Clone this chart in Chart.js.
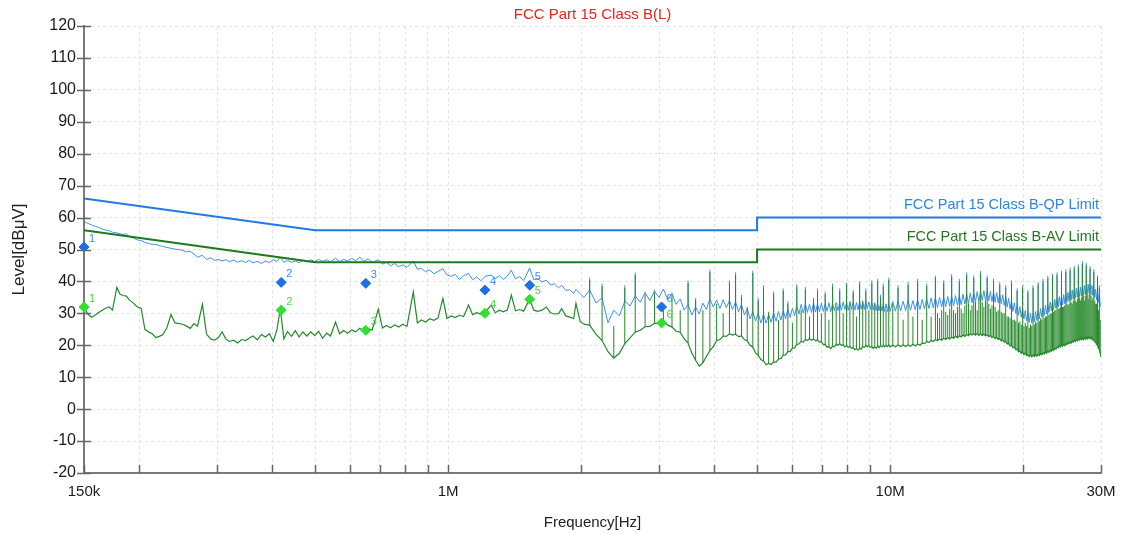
<!DOCTYPE html>
<html>
<head>
<meta charset="utf-8">
<script src="https://cdn.jsdelivr.net/npm/chart.js@4.4.1/dist/chart.umd.min.js"></script>
<style>
  html, body { margin: 0; padding: 0; background: #fff; }
</style>
</head>
<body>
<canvas id="emi" width="1121" height="535"></canvas>
<script>
// scan frequencies in MHz (shared by both receiver traces)
const freqMHz = [
  0.150, 0.153, 0.156, 0.159, 0.162, 0.165, 0.168, 0.171, 0.174, 0.178,
  0.181, 0.184, 0.187, 0.190, 0.194, 0.198, 0.202, 0.206, 0.210, 0.214,
  0.218, 0.222, 0.226, 0.231, 0.236, 0.241, 0.246, 0.251, 0.256, 0.261,
  0.266, 0.271, 0.278, 0.284, 0.290, 0.296, 0.302, 0.308, 0.314, 0.320,
  0.327, 0.334, 0.341, 0.348, 0.355, 0.362, 0.370, 0.378, 0.386, 0.394,
  0.402, 0.410, 0.417, 0.425, 0.433, 0.442, 0.451, 0.460, 0.469, 0.479,
  0.489, 0.499, 0.509, 0.520, 0.531, 0.542, 0.556, 0.568, 0.580, 0.592,
  0.605, 0.618, 0.631, 0.645, 0.659, 0.673, 0.695, 0.710, 0.725, 0.741,
  0.757, 0.773, 0.790, 0.807, 0.834, 0.852, 0.870, 0.889, 0.908, 0.928,
  0.948, 0.973, 0.994, 1.016, 1.038, 1.061, 1.084, 1.112, 1.136, 1.161,
  1.186, 1.212, 1.251, 1.278, 1.306, 1.334, 1.362, 1.390, 1.420, 1.451,
  1.482, 1.529, 1.562, 1.596, 1.630, 1.668, 1.704, 1.740, 1.777, 1.807,
  1.845, 1.884, 1.923, 1.946, 1.990, 2.030,
  2.09, 2.16, 2.23, 2.30, 2.37, 2.44, 2.51, 2.58, 2.65, 2.72,
  2.79, 2.86, 2.93, 3.00, 3.07, 3.14, 3.21, 3.28, 3.35, 3.42,
  3.49, 3.56, 3.63, 3.70, 3.77, 3.84, 3.91, 3.98, 4.05, 4.12,
  4.19, 4.26, 4.33, 4.40, 4.47, 4.54, 4.61, 4.68, 4.75, 4.82,
  4.89, 4.96, 5.03, 5.10, 5.17, 5.24, 5.31, 5.38, 5.45, 5.52,
  5.59, 5.66, 5.73, 5.80, 5.87, 5.94, 6.01, 6.08, 6.15, 6.22,
  6.29, 6.36, 6.43, 6.50, 6.57, 6.64, 6.71, 6.78, 6.85, 6.92,
  6.99, 7.06, 7.13, 7.20, 7.27, 7.34, 7.41, 7.48, 7.55, 7.62,
  7.69, 7.76, 7.83, 7.90, 7.97, 8.04, 8.11, 8.18, 8.25, 8.32,
  8.39, 8.46, 8.53, 8.60, 8.67, 8.74, 8.81, 8.88, 8.95, 9.02,
  9.09, 9.16, 9.23, 9.30, 9.37, 9.44, 9.51, 9.58, 9.65, 9.72,
  9.79, 9.86, 9.93,
  10.00, 10.14, 10.28, 10.42, 10.56, 10.70, 10.84, 10.98, 11.12, 11.26,
  11.40, 11.54, 11.68, 11.82, 11.96, 12.10, 12.24, 12.38, 12.52, 12.66,
  12.80, 12.94, 13.08, 13.22, 13.36, 13.50, 13.64, 13.78, 13.92, 14.06,
  14.20, 14.34, 14.48, 14.62, 14.76, 14.90, 15.04, 15.18, 15.32, 15.46,
  15.60, 15.74, 15.88, 16.02, 16.16, 16.30, 16.44, 16.58, 16.72, 16.86,
  17.00, 17.14, 17.28, 17.42, 17.56, 17.70, 17.84, 17.98, 18.12, 18.26,
  18.40, 18.54, 18.68, 18.82, 18.96, 19.10, 19.24, 19.38, 19.52, 19.66,
  19.80, 19.94, 20.08, 20.22, 20.36, 20.50, 20.64, 20.78, 20.92, 21.06,
  21.20, 21.34, 21.48, 21.62, 21.76, 21.90, 22.04, 22.18, 22.32, 22.46,
  22.60, 22.74, 22.88, 23.02, 23.16, 23.30, 23.44, 23.58, 23.72, 23.86,
  24.00, 24.14, 24.28, 24.42, 24.56, 24.70, 24.84, 24.98, 25.12, 25.26,
  25.40, 25.54, 25.68, 25.82, 25.96, 26.10, 26.24, 26.38, 26.52, 26.66,
  26.80, 26.94, 27.08, 27.22, 27.36, 27.50, 27.64, 27.78, 27.92, 28.06,
  28.20, 28.34, 28.48, 28.62, 28.76, 28.90, 29.04, 29.18, 29.32, 29.46,
  29.60, 29.74, 29.88, 30.00
];

// blue trace, peak detector [dBuV]
const peakLevel = [
  58.7, 58.2, 57.7, 57.3, 56.9, 56.4, 56.1, 55.9, 55.4, 55.2,
  54.9, 54.7, 54.9, 54.1, 53.6, 53.0, 52.8, 52.2, 51.9, 51.6,
  51.6, 51.2, 51.0, 50.6, 50.4, 50.1, 50.0, 49.7, 49.3, 49.4,
  48.6, 47.6, 48.2, 46.9, 47.4, 46.6, 46.9, 46.4, 46.8, 46.2,
  46.7, 46.0, 46.5, 45.9, 46.6, 45.8, 46.3, 45.6, 46.4, 45.9,
  46.8, 46.2, 47.6, 46.0, 46.6, 46.0, 46.4, 45.9, 46.7, 46.1,
  46.8, 46.2, 46.9, 46.3, 46.8, 46.1, 47.3, 46.2, 46.9, 46.4,
  47.2, 46.5, 47.6, 46.3, 47.1, 45.9, 46.8, 45.4, 46.0, 44.9,
  45.6, 44.6, 45.2, 44.4, 46.4, 43.8, 44.1, 43.0, 43.6, 42.4,
  43.1, 44.0, 42.0, 41.6, 42.2, 40.6, 41.8, 42.5, 40.5, 41.4,
  40.2, 41.6, 42.0, 40.9, 41.8, 40.6, 41.7, 43.5, 40.8, 41.5,
  40.3, 44.2, 40.6, 40.9, 39.8, 40.4, 38.9, 39.2, 38.0, 38.8,
  37.2, 37.4, 36.3, 37.5, 36.1, 35.0,
  37.3, 33.3, 34.8, 27.0, 31.0, 29.2, 33.8, 32.3, 35.5, 33.5,
  36.5, 34.0, 37.0, 35.0, 37.6, 34.3, 36.2, 32.8, 34.5, 31.0,
  32.8, 29.5, 32.0, 29.8, 33.2, 31.2, 34.5, 32.0, 34.2, 31.5,
  34.3, 31.8, 34.0, 31.2, 33.6, 30.5, 32.8, 29.5, 31.5, 28.3,
  30.5, 27.6, 30.0, 27.0, 29.8, 26.9, 29.6, 27.2, 30.2, 27.5,
  30.6, 27.9, 30.8, 28.3, 31.4, 28.7, 31.6, 29.3, 32.4, 29.8,
  32.8, 30.1, 33.0, 30.3, 32.9, 30.3, 33.2, 30.4, 33.0, 30.5,
  33.2, 30.6, 33.0, 30.7, 33.3, 30.5, 33.1, 30.8, 33.4, 30.9,
  33.3, 31.0, 33.6, 31.2, 33.4, 31.0, 33.7, 31.2, 33.5, 31.0,
  33.4, 31.1, 33.7, 31.3, 33.5, 31.2, 33.8, 31.4, 33.6, 31.2,
  33.5, 31.0, 33.3, 30.9, 33.2, 30.8, 33.1, 30.7, 33.0, 30.6,
  33.0, 30.6, 33.1,
  30.6, 33.7, 30.7, 33.9, 30.8, 33.8, 30.9, 34.1, 31.0, 34.0,
  31.1, 34.3, 31.2, 34.4, 31.4, 34.5, 31.5, 34.8, 31.7, 34.9,
  31.8, 35.0, 32.0, 35.1, 32.1, 35.3, 32.2, 35.4, 32.4, 35.6,
  32.5, 35.7, 32.7, 36.0, 32.9, 36.1, 33.1, 36.4, 33.3, 36.6,
  33.6, 36.8, 33.8, 37.0, 34.0, 37.1, 34.0, 37.0, 33.9, 36.9,
  33.7, 36.7, 33.5, 36.5, 33.3, 36.2, 33.0, 35.8, 32.5, 35.3,
  32.0, 34.7, 31.3, 34.0, 30.6, 33.3, 30.0, 32.7, 29.4, 32.1,
  28.8, 31.5, 28.2, 30.9, 27.6, 30.4, 27.2, 30.1, 27.0, 30.2,
  27.4, 30.6, 27.8, 31.0, 28.3, 31.5, 28.8, 32.0, 29.3, 32.5,
  29.8, 33.0, 30.3, 33.5, 30.8, 34.0, 31.2, 34.4, 31.6, 34.8,
  32.0, 35.2, 32.4, 35.6, 32.7, 35.9, 33.0, 36.2, 33.4, 36.6,
  33.8, 37.0, 34.1, 37.3, 34.4, 37.6, 34.7, 37.9, 35.0, 38.1,
  35.2, 38.3, 35.4, 38.5, 35.6, 38.7, 35.8, 38.9, 36.0, 39.1,
  36.2, 39.1, 36.0, 38.8, 35.6, 38.3, 35.0, 37.6, 34.2, 36.8,
  33.5, 36.0, 32.6, 32.0
];

// green trace, average detector [dBuV]
const avgLevel = [
  32.0, 29.8, 28.8, 29.5, 30.3, 31.0, 31.6, 32.0, 31.0, 38.1,
  36.0, 35.6, 35.4, 34.2, 33.2, 32.0, 31.6, 25.0, 24.2, 23.6,
  22.4, 22.8, 23.3, 25.5, 29.6, 27.0, 26.8, 26.6, 26.0, 25.3,
  26.8, 26.0, 32.8, 23.5, 22.0, 21.6, 22.4, 24.2, 22.0, 21.2,
  21.6, 20.7, 21.8, 21.5, 22.3, 22.9, 21.7, 23.4, 22.6, 23.6,
  21.2, 25.0, 31.5, 22.0, 24.3, 22.8, 24.6, 22.6, 24.2, 22.9,
  24.2, 23.0, 24.4, 22.2, 23.8, 22.9, 27.3, 23.6, 24.6, 23.8,
  24.8, 24.2, 25.3, 24.4, 25.2, 24.8, 31.3, 25.4, 26.2, 25.5,
  26.4, 25.7, 26.6, 25.9, 36.7, 27.0, 27.9, 27.3, 28.3, 27.8,
  28.5, 34.7, 28.4, 29.2, 28.7, 29.4, 29.0, 32.6, 29.6, 30.2,
  29.7, 30.3, 32.6, 30.2, 31.0, 30.5, 31.1, 35.7, 30.8, 31.2,
  30.7, 34.5, 31.0, 30.6, 31.0, 32.0, 30.2, 29.8, 29.9, 31.5,
  29.2, 28.8, 28.4, 33.1, 27.4, 26.6,
  26.3, 23.5, 21.5, 18.0, 16.0, 17.5, 20.5, 22.3, 24.1, 24.7,
  25.8, 25.9, 26.9, 26.8, 27.5, 26.3, 25.7, 24.4, 24.1, 22.0,
  20.7, 17.5, 15.3, 13.5, 14.5, 16.5, 18.3, 19.6, 21.5, 21.8,
  22.9, 22.8, 23.6, 23.2, 23.5, 22.7, 22.9, 21.8, 21.4, 20.0,
  19.4, 17.6, 16.9, 15.5, 15.1, 13.9, 14.3, 14.0, 14.8, 14.7,
  15.7, 15.8, 16.9, 17.0, 18.0, 18.0, 19.1, 19.2, 20.3, 20.4,
  21.2, 21.0, 21.8, 21.5, 22.1, 21.6, 22.0, 21.4, 21.7, 21.0,
  21.1, 20.2, 20.3, 19.4, 19.6, 19.0, 19.7, 19.5, 20.3, 20.0,
  20.5, 19.9, 20.2, 19.5, 19.9, 19.3, 19.7, 19.0, 19.3, 18.6,
  19.0, 18.5, 19.1, 18.8, 19.6, 19.3, 20.0, 19.5, 19.9, 19.3,
  19.6, 19.0, 19.5, 19.1, 19.7, 19.3, 19.9, 19.5, 20.0, 19.5,
  20.0, 19.6, 20.1,
  19.5, 20.0, 19.5, 20.1, 19.6, 20.1, 19.6, 20.2, 19.7, 20.3,
  19.8, 20.4, 20.0, 20.7, 20.5, 21.2, 20.9, 21.5, 21.2, 21.8,
  21.4, 22.0, 21.6, 22.2, 21.8, 22.4, 22.0, 22.6, 22.2, 22.8,
  22.4, 23.0, 22.6, 23.2, 22.8, 23.4, 23.0, 23.6, 23.2, 23.7,
  23.2, 23.7, 23.1, 23.6, 23.0, 23.5, 22.9, 23.3, 22.7, 23.1,
  22.4, 22.8, 22.1, 22.5, 21.8, 22.1, 21.4, 21.7, 21.0, 21.2,
  20.4, 20.6, 19.8, 20.0, 19.2, 19.4, 18.6, 18.8, 18.0, 18.2,
  17.5, 17.8, 17.1, 17.5, 16.8, 17.1, 16.5, 17.0, 16.4, 17.0,
  16.5, 17.1, 16.6, 17.2, 16.8, 17.4, 17.0, 17.7, 17.3, 17.9,
  17.5, 18.2, 17.8, 18.5, 18.1, 18.8, 18.4, 19.1, 18.8, 19.5,
  19.2, 19.9, 19.5, 20.1, 19.7, 20.3, 19.9, 20.6, 20.2, 20.9,
  20.5, 21.1, 20.7, 21.4, 21.0, 21.6, 21.2, 21.8, 21.4, 22.0,
  21.6, 22.2, 21.7, 22.3, 21.8, 22.4, 21.9, 22.5, 22.0, 22.6,
  22.1, 22.6, 22.0, 22.3, 21.6, 21.8, 21.0, 21.1, 20.2, 20.1,
  19.0, 18.7, 17.5, 16.4
];

// harmonic spikes of the switching frequency above 2 MHz
const spikeFreq = [
  2.09, 2.23, 2.37, 2.51, 2.65, 2.79, 2.93, 3.07, 3.21, 3.35,
  3.49, 3.63, 3.77, 3.91, 4.05, 4.19, 4.33, 4.47, 4.61, 4.75,
  4.89, 5.03, 5.17, 5.31, 5.45, 5.59, 5.73, 5.87, 6.01, 6.15,
  6.29, 6.43, 6.57, 6.71, 6.85, 6.99, 7.13, 7.27, 7.41, 7.55,
  7.69, 7.83, 7.97, 8.11, 8.25, 8.39, 8.53, 8.67, 8.81, 8.95,
  9.09, 9.23, 9.37, 9.51, 9.65, 9.79, 9.93,
  10.14, 10.42, 10.70, 10.98, 11.26, 11.54, 11.82, 12.10, 12.38, 12.66,
  12.94, 13.22, 13.50, 13.78, 14.06, 14.34, 14.62, 14.90, 15.18, 15.46,
  15.74, 16.02, 16.30, 16.58, 16.86, 17.14, 17.42, 17.70, 17.98, 18.26,
  18.54, 18.82, 19.10, 19.38, 19.66, 19.94, 20.22, 20.50, 20.78, 21.06,
  21.34, 21.62, 21.90, 22.18, 22.46, 22.74, 23.02, 23.30, 23.58, 23.86,
  24.14, 24.42, 24.70, 24.98, 25.26, 25.54, 25.82, 26.10, 26.38, 26.66,
  26.94, 27.22, 27.50, 27.78, 28.06, 28.34, 28.62, 28.90, 29.18, 29.46,
  29.74,
  12.80, 13.08, 13.36, 13.64, 13.92, 14.20, 14.48, 14.76, 15.04, 15.32,
  15.60, 15.88, 16.16, 16.44, 16.72, 17.00, 17.28, 17.56, 17.84, 18.12,
  18.40, 18.68, 18.96, 19.24, 19.52, 19.80, 20.08, 20.36, 20.64, 20.92,
  21.20, 21.48, 21.76, 22.04, 22.32, 22.60, 22.88, 23.16, 23.44, 23.72,
  24.00, 24.28, 24.56, 24.84, 25.12, 25.40, 25.68, 25.96, 26.24, 26.52,
  26.80, 27.08, 27.36, 27.64, 27.92, 28.20, 28.48, 28.76, 29.04, 29.32,
  29.60, 29.88
];
// spike tops, average detector
const avSpikeTop = [
  40.4, 38.5, 26.0, 38.0, 42.0, 36.0, 36.6, 33.0, 35.7, 31.0,
  39.5, 34.0, 31.0, 42.9, 33.0, 30.0, 39.5, 42.0, 35.0, 32.0,
  42.6, 34.0, 38.0, 30.5, 36.0, 28.0, 37.0, 33.0, 27.0, 38.3,
  31.0, 37.5, 29.0, 34.0, 37.0, 30.0, 36.0, 28.0, 38.5, 32.0,
  37.0, 30.0, 38.8, 33.0, 36.5, 29.0, 39.2, 34.0, 37.0, 31.0,
  39.5, 33.0, 40.0, 35.0, 38.5, 31.0, 40.4,
  33.0, 38.0, 28.0, 39.0, 29.0, 40.0, 28.0, 38.5, 29.0, 41.0,
  28.5, 39.5, 29.5, 41.5, 30.0, 40.0, 30.0, 42.0, 31.0, 41.0,
  31.0, 42.5, 32.0, 41.0, 31.5, 40.0, 30.5, 39.0, 30.0, 38.0,
  29.0, 39.5, 28.0, 37.0, 27.5, 38.0, 27.0, 36.5, 26.5, 38.0,
  27.5, 39.0, 28.5, 40.0, 29.0, 41.0, 30.0, 41.5, 31.0, 42.0,
  31.5, 42.5, 32.0, 43.0, 32.5, 43.5, 33.0, 44.0, 33.5, 44.5,
  34.0, 45.5, 34.0, 45.0, 34.5, 44.0, 34.0, 43.0, 33.0, 41.0,
  38.0,
  30.0, 31.0, 30.5, 31.5, 31.0, 32.0, 31.5, 32.5, 33.0, 32.5,
  33.5, 34.0, 33.5, 34.0, 33.0, 32.5, 32.0, 31.0, 30.5, 30.0,
  29.0, 28.5, 28.0, 27.5, 27.0, 26.5, 26.0, 26.0, 25.5, 26.0,
  26.5, 27.0, 27.5, 28.0, 28.5, 29.0, 29.5, 30.0, 30.5, 31.0,
  31.5, 32.0, 32.0, 32.5, 33.0, 33.0, 33.5, 34.0, 34.0, 34.5,
  35.0, 35.0, 35.5, 35.5, 36.0, 36.0, 35.5, 35.0, 34.0, 33.0,
  31.0, 28.0
];
// spike tops, peak detector (null where the peak stays inside the band)
const pkSpikeTop = [
  41.2, 39.3, null, 38.8, 42.8, 36.8, 37.4, null, 36.5, null,
  40.3, 34.8, null, 43.7, null, null, 40.3, 42.8, 35.8, null,
  43.4, 34.8, 38.8, null, 36.8, null, 37.8, 33.8, null, 39.1,
  null, 38.3, null, 34.8, 37.8, null, 36.8, null, 39.3, null,
  37.8, null, 39.6, null, 37.3, null, 40.0, null, 37.8, null,
  40.3, null, 40.8, 35.8, 39.3, null, 41.2,
  null, 38.8, null, 39.8, null, 40.8, null, 39.3, null, 41.8,
  null, 40.3, null, 42.3, null, 40.8, null, 42.8, null, 41.8,
  null, 43.3, null, 41.8, null, 40.8, null, 39.8, null, 38.8,
  null, 40.3, null, 37.8, null, 38.8, null, 37.3, null, 38.8,
  null, 39.8, null, 40.8, null, 41.8, null, 42.3, null, 42.8,
  null, 43.3, null, 43.8, null, 44.3, null, 44.8, null, 45.3,
  null, 46.3, null, 45.8, null, 44.8, null, 43.8, null, 41.8,
  38.8
];

// FCC Part 15 Class B limits
const qpLimitFreq = [0.15, 0.5, 5, 5, 30];
const qpLimitLevel = [66, 56, 56, 60, 60];
const avLimitFreq = [0.15, 0.5, 5, 5, 30];
const avLimitLevel = [56, 46, 46, 50, 50];
const limitNames = ['FCC Part 15 Class B-QP Limit', 'FCC Part 15 Class B-AV Limit'];

// final measurement markers
const markerNo = ['1', '2', '3', '4', '5', '6'];
const markerFreq = [0.150, 0.419, 0.651, 1.211, 1.53, 3.04];
const qpMarkerLevel = [50.8, 39.7, 39.4, 37.3, 38.8, 32.0];
const avMarkerLevel = [32.0, 31.0, 24.7, 30.0, 34.4, 27.0];

// x grid positions and the few that carry a label
const gridFreqs = [0.15, 0.2, 0.3, 0.4, 0.5, 0.6, 0.7, 0.8, 0.9, 1, 2, 3, 4, 5, 6, 7, 8, 9, 10, 20, 30];
const freqLabels = { 0.15: '150k', 1: '1M', 10: '10M', 30: '30M' };

const FONT = '"Liberation Sans", Arial, sans-serif';
Chart.defaults.font.family = FONT;

const xy = (xs, ys) => xs.map((x, i) => ({ x: x, y: ys[i] }));

// vertical spike segments: from the trace level at that frequency up to the top
function spikes(baseLevels, tops) {
  const out = [];
  spikeFreq.forEach((f, i) => {
    if (tops[i] === null || tops[i] === undefined) return;
    out.push({ x: f, y: baseLevels[freqMHz.indexOf(f)] }, { x: f, y: tops[i] }, { x: f, y: null });
  });
  return out;
}

const decor = {
  id: 'decor',
  afterDraw(chart) {
    const { ctx, chartArea: a, scales: { x, y } } = chart;
    ctx.save();
    // tick marks across the axes
    ctx.strokeStyle = '#666';
    ctx.lineWidth = 1.5;
    y.ticks.forEach(t => {
      const p = Math.round(y.getPixelForValue(t.value)) + 0.5;
      ctx.beginPath(); ctx.moveTo(a.left - 7, p); ctx.lineTo(a.left + 7, p); ctx.stroke();
    });
    x.ticks.forEach(t => {
      const p = Math.round(x.getPixelForValue(t.value)) + 0.5;
      ctx.beginPath(); ctx.moveTo(p, a.bottom - 8); ctx.lineTo(p, a.bottom); ctx.stroke();
    });

    // limit names above the right end of each limit line
    ctx.font = '14.5px ' + FONT;
    ctx.textAlign = 'right';
    ctx.textBaseline = 'middle';
    ctx.fillStyle = '#2a86e8';
    ctx.fillText(limitNames[0], a.right - 2, y.getPixelForValue(qpLimitLevel[4]) - 13);
    ctx.fillStyle = '#1f7a1f';
    ctx.fillText(limitNames[1], a.right - 2, y.getPixelForValue(avLimitLevel[4]) - 13);

    // marker numbers
    ctx.font = '11px ' + FONT;
    ctx.textAlign = 'left';
    const numColors = ['#3a8ee8', '#3fdc3f'];
    [0, 1].forEach(d => {
      ctx.fillStyle = numColors[d];
      chart.getDatasetMeta(d).data.forEach((pt, j) => {
        ctx.fillText(markerNo[j], pt.x + 5, pt.y - 8);
      });
    });
    ctx.restore();
  }
};

new Chart(document.getElementById('emi'), {
  type: 'line',
  data: {
    datasets: [
      {
        label: 'QP',
        data: xy(markerFreq, qpMarkerLevel),
        showLine: false,
        pointStyle: 'rectRot',
        pointRadius: 5,
        backgroundColor: '#1f6fe6',
        borderColor: '#1f6fe6',
        borderWidth: 1,
        clip: false,
        order: 0
      },
      {
        label: 'AV',
        data: xy(markerFreq, avMarkerLevel),
        showLine: false,
        pointStyle: 'rectRot',
        pointRadius: 5,
        backgroundColor: '#2fe02f',
        borderColor: '#2fe02f',
        borderWidth: 1,
        clip: false,
        order: 0
      },
      {
        label: limitNames[0],
        data: xy(qpLimitFreq, qpLimitLevel),
        borderColor: '#1f7ae6',
        borderWidth: 2,
        pointRadius: 0,
        order: 1
      },
      {
        label: limitNames[1],
        data: xy(avLimitFreq, avLimitLevel),
        borderColor: '#1c7a1c',
        borderWidth: 2,
        pointRadius: 0,
        order: 1
      },
      {
        label: 'Average spikes',
        data: spikes(avgLevel, avSpikeTop),
        borderColor: '#25882a',
        borderWidth: 1,
        pointRadius: 0,
        spanGaps: false,
        order: 2
      },
      {
        label: 'Average',
        data: xy(freqMHz, avgLevel),
        borderColor: '#25882a',
        borderWidth: 1.2,
        pointRadius: 0,
        order: 3
      },
      {
        label: 'Peak spikes',
        data: spikes(peakLevel, pkSpikeTop),
        borderColor: '#3c91ea',
        borderWidth: 1,
        pointRadius: 0,
        spanGaps: false,
        order: 4
      },
      {
        label: 'Peak',
        data: xy(freqMHz, peakLevel),
        borderColor: '#3c91ea',
        borderWidth: 1,
        pointRadius: 0,
        order: 5
      }
    ]
  },
  options: {
    responsive: false,
    animation: false,
    events: [],
    layout: { padding: 0 },
    plugins: {
      legend: { display: false },
      tooltip: { enabled: false },
      title: {
        display: true,
        fullSize: false,
        text: 'FCC Part 15 Class B(L)',
        color: '#e8231e',
        font: { size: 15, weight: 'normal' },
        padding: { top: 6, bottom: 2 }
      }
    },
    scales: {
      x: {
        type: 'logarithmic',
        min: 0.15,
        max: 30,
        afterBuildTicks: s => { s.ticks = gridFreqs.map(v => ({ value: v })); },
        afterFit: s => { s.height = 62; s.paddingLeft = 0; s.paddingRight = 20; },
        ticks: {
          autoSkip: false,
          maxRotation: 0,
          color: '#1a1a1a',
          font: { size: 15 },
          padding: 10,
          callback: v => freqLabels[v] || ''
        },
        grid: { color: '#e2e2e2', drawTicks: false },
        border: { display: true, color: '#7a7a7a', width: 2, dash: [3, 3] },
        title: {
          display: true,
          text: 'Frequency[Hz]',
          color: '#222',
          font: { size: 15 },
          padding: { top: 0, bottom: 3 }
        }
      },
      y: {
        min: -20,
        max: 120,
        afterFit: s => { s.width = 84; },
        ticks: {
          stepSize: 10,
          color: '#1a1a1a',
          font: { size: 16 },
          padding: 8
        },
        grid: { color: '#e2e2e2', drawTicks: false },
        border: { display: true, color: '#7a7a7a', width: 2, dash: [3, 3] },
        title: {
          display: true,
          text: 'Level[dBμV]',
          color: '#222',
          font: { size: 17 },
          padding: { top: 9, bottom: 0 }
        }
      }
    }
  },
  plugins: [decor]
});
</script>
</body>
</html>
